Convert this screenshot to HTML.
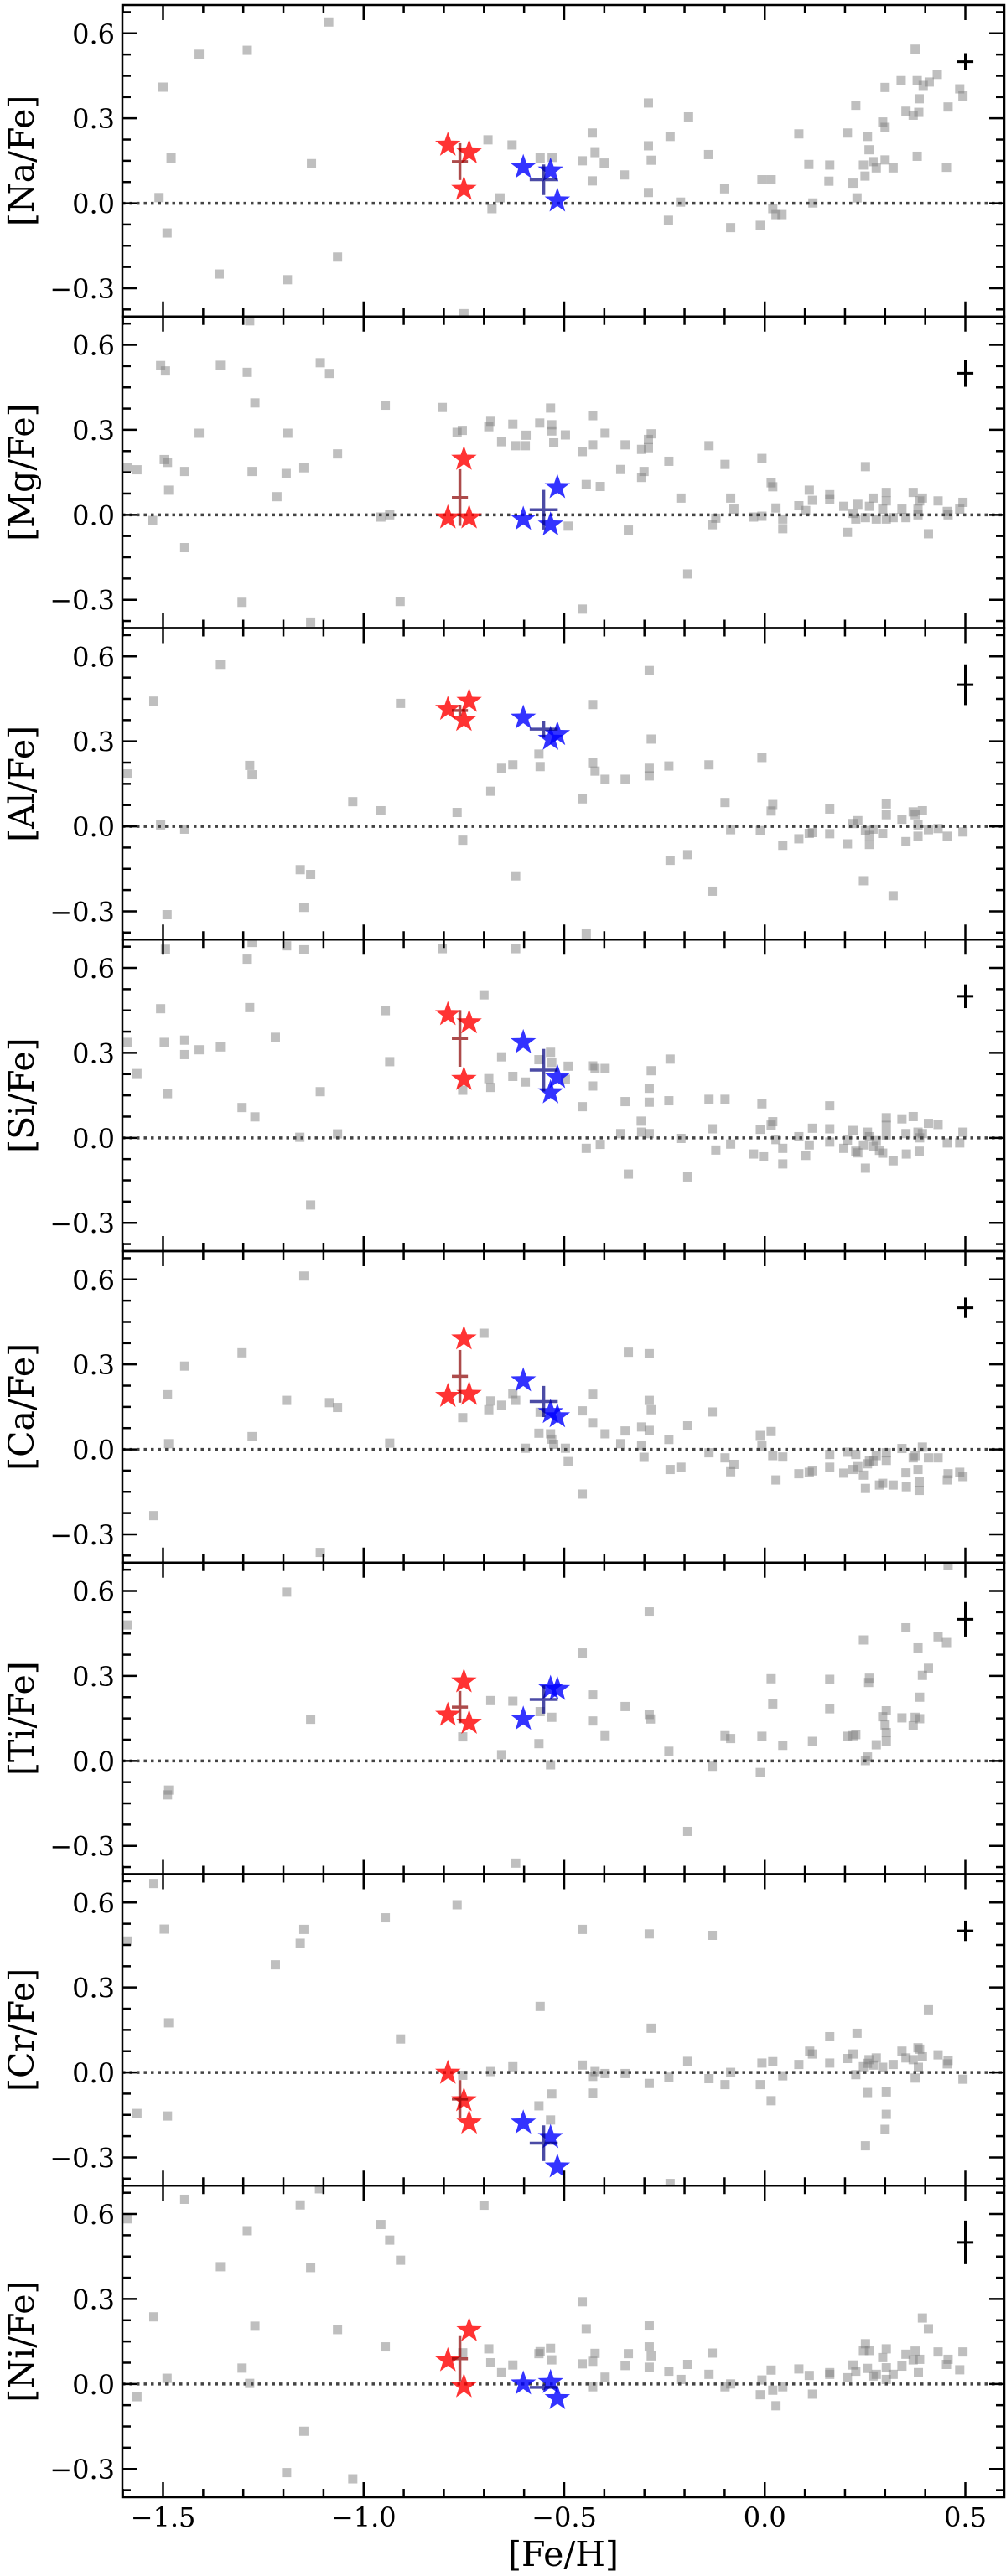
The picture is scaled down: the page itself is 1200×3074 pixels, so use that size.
<!DOCTYPE html>
<html>
<head>
<meta charset="utf-8">
<style>
html,body{margin:0;padding:0;background:#fff;}
svg{display:block;}
text{font-family:"DejaVu Serif","Liberation Serif",serif;fill:#000;}
</style>
</head>
<body>
<svg id="chart" width="1200" height="3074" viewBox="0 0 1200 3074" xmlns="http://www.w3.org/2000/svg"></svg>
<script>
// ---------- data ----------
const elementLabels = ["[Na/Fe]","[Mg/Fe]","[Al/Fe]","[Si/Fe]","[Ca/Fe]","[Ti/Fe]","[Cr/Fe]","[Ni/Fe]"];
const xTickValues = [-1.5,-1.0,-0.5,0.0,0.5];
const xTickLabels = ["\u22121.5","\u22121.0","\u22120.5","0.0","0.5"];
const yTickValues = [-0.3,0.0,0.3,0.6];
const yTickLabels = ["\u22120.3","0.0","0.3","0.6"];

const fieldNa = [[-1.087,0.64],[-1.41,0.526],[-1.29,0.54],[-1.5,0.41],[-1.48,0.16],[-1.13,0.14],[-1.51,0.02],[-1.49,-0.105],[-1.065,-0.19],[-1.36,-0.25],[-1.19,-0.27],[-0.75,-0.39],[-0.69,0.224],[-0.63,0.206],[-0.56,0.16],[-0.53,0.162],[-0.66,0.019],[-0.68,-0.019],[-0.455,0.15],[-0.43,0.248],[-0.423,0.179],[-0.4,0.142],[-0.43,0.079],[-0.35,0.1],[-0.29,0.354],[-0.19,0.305],[-0.236,0.236],[-0.29,0.203],[-0.283,0.152],[-0.29,0.038],[-0.21,0.004],[-0.24,-0.06],[-0.14,0.172],[-0.1,0.051],[-0.085,-0.086],[-0.011,-0.078],[-0.007,0.083],[0.016,0.083],[0.02,-0.019],[0.028,-0.04],[0.043,-0.04],[0.085,0.245],[0.11,0.137],[0.12,0.001],[0.162,0.135],[0.16,0.078],[0.206,0.248],[0.22,0.071],[0.23,0.019],[0.227,0.346],[0.256,0.236],[0.26,0.189],[0.246,0.135],[0.25,0.096],[0.27,0.147],[0.278,0.125],[0.3,0.409],[0.294,0.287],[0.3,0.268],[0.3,0.153],[0.32,0.125],[0.34,0.433],[0.352,0.325],[0.37,0.311],[0.38,0.433],[0.385,0.369],[0.384,0.321],[0.395,0.416],[0.41,0.428],[0.375,0.544],[0.38,0.166],[0.43,0.455],[0.457,0.34],[0.453,0.127],[0.486,0.404],[0.494,0.379]];
const fieldMg = [[-1.284,0.685],[-1.506,0.527],[-1.494,0.508],[-1.357,0.528],[-1.29,0.503],[-1.108,0.537],[-1.085,0.499],[-1.271,0.395],[-1.41,0.288],[-1.189,0.288],[-0.946,0.387],[-0.804,0.379],[-1.588,0.168],[-1.565,0.159],[-1.497,0.195],[-1.489,0.185],[-1.446,0.153],[-1.278,0.153],[-1.193,0.146],[-1.149,0.166],[-1.065,0.215],[-1.486,0.087],[-1.216,0.064],[-1.526,-0.02],[-1.446,-0.116],[-1.303,-0.309],[-0.909,-0.306],[-1.132,-0.379],[-0.957,-0.008],[-0.935,0.0],[-0.767,0.291],[-0.754,0.298],[-0.688,0.311],[-0.683,0.33],[-0.628,0.32],[-0.656,0.258],[-0.621,0.244],[-0.597,0.244],[-0.595,0.281],[-0.561,0.324],[-0.534,0.377],[-0.531,0.318],[-0.531,0.296],[-0.526,0.254],[-0.497,0.282],[-0.429,0.35],[-0.455,0.223],[-0.429,0.247],[-0.398,0.288],[-0.445,0.107],[-0.41,0.1],[-0.49,-0.04],[-0.34,-0.054],[-0.455,-0.333],[-0.348,0.247],[-0.359,0.16],[-0.307,0.231],[-0.29,0.237],[-0.29,0.266],[-0.283,0.286],[-0.301,0.153],[-0.307,0.132],[-0.239,0.189],[-0.209,0.059],[-0.192,-0.209],[-0.139,0.244],[-0.099,0.178],[-0.085,0.059],[-0.077,0.02],[-0.131,-0.035],[-0.122,-0.012],[-0.007,0.199],[0.016,0.113],[0.02,0.099],[0.028,0.024],[-0.028,-0.008],[-0.007,-0.005],[0.045,-0.015],[0.045,-0.049],[0.085,0.032],[0.102,0.015],[0.111,0.087],[0.119,0.051],[0.162,0.071],[0.162,0.054],[0.206,-0.062],[0.197,0.03],[0.22,0.005],[0.227,-0.015],[0.232,0.037],[0.251,0.17],[0.251,-0.01],[0.261,0.03],[0.27,0.059],[0.278,-0.015],[0.294,0.02],[0.303,0.049],[0.303,0.079],[0.303,-0.015],[0.32,-0.01],[0.342,0.02],[0.352,-0.01],[0.37,0.079],[0.382,0.02],[0.386,0.049],[0.393,0.059],[0.382,0.0],[0.408,-0.067],[0.432,0.049],[0.455,0.012],[0.457,0.0],[0.486,0.02],[0.494,0.044]];
const fieldAl = [[-1.357,0.572],[-0.288,0.55],[-1.523,0.442],[-0.908,0.434],[-0.429,0.43],[-0.283,0.308],[-1.588,0.185],[-1.284,0.215],[-1.278,0.182],[-0.563,0.255],[-0.656,0.205],[-0.628,0.217],[-0.56,0.211],[-0.429,0.224],[-0.423,0.195],[-0.398,0.166],[-0.348,0.166],[-0.288,0.205],[-0.288,0.178],[-0.239,0.213],[-0.139,0.217],[-0.007,0.243],[-0.683,0.124],[-0.455,0.097],[-1.027,0.087],[-0.957,0.055],[-0.767,0.049],[-1.506,0.005],[-1.446,-0.01],[-0.753,-0.049],[-1.158,-0.153],[-1.132,-0.17],[-1.149,-0.286],[-1.49,-0.312],[-0.621,-0.175],[-0.445,-0.38],[-0.236,-0.12],[-0.192,-0.1],[-0.131,-0.229],[-0.099,0.084],[-0.085,-0.012],[-0.011,-0.015],[0.016,0.054],[0.02,0.077],[0.045,-0.067],[0.085,-0.044],[0.111,-0.025],[0.119,-0.022],[0.162,0.061],[0.162,-0.026],[0.206,-0.062],[0.22,0.01],[0.232,0.02],[0.246,-0.192],[0.251,-0.015],[0.261,-0.032],[0.261,-0.064],[0.27,-0.01],[0.294,-0.025],[0.303,0.079],[0.303,0.041],[0.32,-0.245],[0.342,0.025],[0.352,-0.054],[0.37,0.051],[0.375,0.041],[0.382,0.005],[0.382,-0.035],[0.393,0.055],[0.408,-0.012],[0.432,-0.008],[0.455,-0.035],[0.494,-0.02]];
const fieldSi = [[-1.494,0.666],[-1.278,0.69],[-1.192,0.678],[-1.149,0.664],[-0.804,0.668],[-0.621,0.668],[-1.29,0.631],[-0.7,0.505],[-1.506,0.456],[-1.284,0.46],[-0.946,0.449],[-1.588,0.337],[-1.497,0.337],[-1.446,0.345],[-1.41,0.311],[-1.446,0.294],[-1.357,0.321],[-1.22,0.355],[-0.935,0.269],[-1.565,0.227],[-1.489,0.156],[-1.108,0.163],[-1.303,0.107],[-1.271,0.074],[-1.159,0.002],[-1.065,0.014],[-0.753,0.168],[-0.688,0.209],[-0.683,0.178],[-0.656,0.286],[-0.628,0.217],[-0.597,0.197],[-0.563,0.276],[-0.534,0.302],[-0.531,0.266],[-0.497,0.207],[-0.49,0.253],[-0.429,0.254],[-0.423,0.245],[-0.398,0.245],[-0.429,0.183],[-0.455,0.11],[-0.348,0.128],[-0.288,0.126],[-0.288,0.175],[-0.283,0.237],[-0.236,0.278],[-0.239,0.131],[-0.308,0.059],[-0.307,0.02],[-0.288,0.015],[-0.359,0.015],[-0.445,-0.037],[-0.41,-0.023],[-0.34,-0.128],[-0.209,-0.002],[-0.192,-0.138],[-0.139,0.136],[-0.099,0.136],[-0.131,0.032],[-0.122,-0.043],[-0.085,-0.022],[-0.028,-0.057],[-0.003,-0.067],[-0.007,0.12],[-0.011,0.03],[0.016,0.045],[0.02,0.057],[0.028,-0.006],[0.045,-0.037],[0.045,-0.092],[0.085,0.004],[0.102,-0.062],[0.111,-0.025],[0.119,0.034],[0.162,0.113],[0.162,0.032],[0.162,-0.015],[0.197,-0.037],[0.206,-0.008],[0.22,0.026],[0.227,-0.047],[0.232,-0.053],[0.246,-0.025],[0.251,-0.107],[0.256,0.02],[0.261,0.004],[0.27,-0.03],[0.278,-0.01],[0.286,-0.044],[0.294,-0.054],[0.303,0.071],[0.303,0.044],[0.303,0.01],[0.32,-0.081],[0.342,0.067],[0.352,0.015],[0.353,-0.057],[0.37,0.075],[0.382,0.02],[0.386,0.0],[0.385,-0.047],[0.393,0.015],[0.408,0.051],[0.432,0.047],[0.455,-0.018],[0.486,-0.018],[0.494,0.02],[-1.132,-0.237]];
const fieldCa = [[-1.149,0.612],[-1.303,0.341],[-1.446,0.294],[-0.7,0.41],[-0.34,0.343],[-0.288,0.338],[-1.489,0.193],[-1.192,0.173],[-1.085,0.165],[-1.065,0.148],[-1.278,0.045],[-1.486,0.02],[-0.935,0.022],[-1.523,-0.234],[-1.108,-0.364],[-0.753,0.112],[-0.688,0.14],[-0.683,0.171],[-0.656,0.156],[-0.628,0.197],[-0.621,0.173],[-0.563,0.057],[-0.56,0.131],[-0.534,0.055],[-0.531,0.036],[-0.526,0.018],[-0.597,0.004],[-0.497,0.004],[-0.49,-0.043],[-0.455,0.136],[-0.429,0.195],[-0.429,0.094],[-0.398,0.055],[-0.348,0.065],[-0.359,0.02],[-0.455,-0.158],[-0.307,0.079],[-0.288,0.067],[-0.288,0.173],[-0.283,0.14],[-0.307,0.014],[-0.301,-0.028],[-0.239,0.035],[-0.236,-0.071],[-0.209,-0.063],[-0.192,0.083],[-0.131,0.132],[-0.139,-0.012],[-0.099,-0.03],[-0.077,-0.053],[-0.085,-0.079],[-0.011,0.049],[-0.007,0.012],[0.016,0.063],[0.02,-0.022],[0.045,-0.027],[0.028,-0.108],[0.085,-0.086],[0.111,-0.081],[0.119,-0.076],[0.162,-0.018],[0.162,-0.063],[0.197,-0.084],[0.206,-0.01],[0.22,-0.071],[0.227,-0.018],[0.232,-0.061],[0.246,-0.091],[0.251,-0.138],[0.256,-0.051],[0.261,-0.041],[0.27,-0.041],[0.278,-0.022],[0.286,-0.126],[0.294,-0.12],[0.303,-0.039],[0.303,-0.012],[0.32,-0.126],[0.342,0.003],[0.352,-0.083],[0.353,-0.132],[0.37,-0.03],[0.375,-0.022],[0.382,-0.071],[0.385,-0.115],[0.385,-0.145],[0.393,0.008],[0.408,-0.03],[0.432,-0.03],[0.455,-0.108],[0.457,-0.086],[0.486,-0.081],[0.494,-0.096]];
const fieldTi = [[-1.192,0.596],[-0.288,0.526],[-1.588,0.48],[0.457,0.69],[0.352,0.47],[0.246,0.427],[0.432,0.438],[0.453,0.418],[0.382,0.399],[-0.455,0.381],[0.408,0.327],[0.393,0.302],[0.016,0.29],[0.162,0.288],[0.261,0.292],[0.259,0.277],[0.386,0.225],[-0.429,0.233],[-0.683,0.213],[-0.628,0.211],[-0.348,0.192],[0.02,0.201],[0.162,0.184],[0.303,0.177],[0.294,0.156],[0.342,0.152],[0.375,0.154],[0.386,0.149],[-0.288,0.164],[-0.285,0.148],[-0.56,0.174],[-0.531,0.154],[-0.429,0.141],[-1.132,0.147],[0.3,0.127],[0.37,0.124],[0.303,0.1],[0.303,0.07],[0.227,0.093],[0.22,0.089],[0.206,0.087],[0.278,0.057],[0.256,0.014],[0.251,0.001],[-0.398,0.089],[-0.099,0.089],[-0.085,0.079],[-0.007,0.087],[0.045,0.055],[0.119,0.069],[-0.563,0.061],[-0.753,0.085],[-0.656,0.022],[-0.239,0.034],[-0.534,-0.014],[-0.131,-0.019],[-0.011,-0.041],[-1.489,-0.12],[-1.486,-0.103],[-0.192,-0.249],[-0.621,-0.361]];
const fieldCr = [[-1.523,0.667],[-0.767,0.592],[-0.946,0.546],[-1.497,0.506],[-1.149,0.505],[-0.455,0.505],[-0.288,0.489],[-0.131,0.484],[-1.588,0.464],[-1.158,0.456],[-1.22,0.38],[-0.56,0.233],[0.408,0.221],[-1.486,0.175],[-0.283,0.156],[-0.908,0.118],[0.162,0.126],[0.23,0.138],[0.112,0.075],[0.119,0.065],[0.22,0.065],[0.206,0.049],[0.278,0.051],[0.342,0.075],[0.352,0.051],[0.37,0.045],[0.382,0.087],[0.386,0.082],[0.393,0.055],[0.432,0.062],[0.457,0.042],[0.455,0.03],[0.383,0.018],[0.375,-0.02],[0.26,0.045],[0.256,0.032],[0.27,0.026],[0.246,0.02],[0.294,0.018],[0.32,0.028],[0.227,-0.008],[0.162,0.033],[0.085,0.028],[0.02,0.038],[-0.007,0.033],[0.045,-0.012],[0.016,-0.1],[-0.011,-0.043],[-0.192,0.039],[-0.085,0.0],[-0.099,-0.043],[-0.139,-0.022],[-0.239,-0.017],[-0.288,-0.039],[-0.348,-0.004],[-0.398,-0.004],[-0.423,0.003],[-0.429,-0.014],[-0.455,0.026],[-0.429,-0.073],[-0.531,-0.076],[-0.563,-0.118],[-0.534,-0.168],[-0.628,0.02],[-0.683,0.003],[-0.753,-0.01],[0.256,-0.071],[0.303,-0.069],[0.303,-0.148],[0.3,-0.201],[0.251,-0.259],[-1.565,-0.145],[-1.489,-0.154],[-0.236,-0.392],[0.494,-0.024]];
const fieldNi = [[-1.11,0.689],[-1.446,0.652],[-1.158,0.632],[-0.7,0.631],[-1.588,0.583],[-0.957,0.563],[-1.29,0.541],[-0.935,0.508],[-1.357,0.414],[-1.132,0.411],[-0.908,0.437],[-0.455,0.29],[-1.523,0.237],[-1.271,0.204],[-1.065,0.192],[-0.946,0.131],[-1.303,0.056],[-1.49,0.02],[-1.284,0.002],[-1.565,-0.045],[-1.149,-0.167],[-1.192,-0.313],[-1.027,-0.335],[-0.753,0.11],[-0.688,0.124],[-0.683,0.075],[-0.656,0.04],[-0.628,0.067],[-0.563,0.107],[-0.56,0.114],[-0.534,0.126],[-0.531,0.085],[-0.445,0.195],[-0.423,0.108],[-0.429,0.08],[-0.455,0.071],[-0.398,0.024],[-0.429,-0.01],[-0.348,0.065],[-0.34,0.107],[-0.288,0.205],[-0.288,0.131],[-0.283,0.099],[-0.288,0.059],[-0.239,0.045],[-0.209,0.016],[-0.192,0.069],[-0.131,0.109],[-0.139,0.034],[-0.099,-0.01],[-0.085,0.0],[-0.011,-0.038],[-0.007,0.014],[0.016,0.049],[0.02,-0.022],[0.028,-0.077],[0.045,-0.01],[0.085,0.053],[0.111,0.03],[0.119,-0.036],[0.162,0.04],[0.162,0.034],[0.206,0.022],[0.22,0.067],[0.227,0.045],[0.246,0.118],[0.251,0.142],[0.261,0.118],[0.256,0.055],[0.27,0.028],[0.278,0.034],[0.294,0.093],[0.303,0.124],[0.303,0.057],[0.303,0.016],[0.32,0.034],[0.342,0.063],[0.352,0.105],[0.37,0.085],[0.375,0.116],[0.386,0.087],[0.383,0.04],[0.393,0.233],[0.408,0.195],[0.432,0.113],[0.453,0.069],[0.457,0.087],[0.486,0.05],[0.494,0.113]];
const fieldSets = [fieldNa,fieldMg,fieldAl,fieldSi,fieldCa,fieldTi,fieldCr,fieldNi];

const redStarFe = [-0.79,-0.75,-0.737];
const redStarAbund = [[0.206,0.05,0.179],[-0.01,0.197,-0.01],[0.414,0.375,0.442],[0.436,0.207,0.407],[0.188,0.391,0.195],[0.162,0.28,0.134],[-0.002,-0.099,-0.178],[0.083,-0.009,0.189]];
const blueStarFe = [-0.602,-0.534,-0.517];
const blueStarAbund = [[0.127,0.115,0.009],[-0.015,-0.035,0.097],[0.383,0.308,0.325],[0.337,0.16,0.214],[0.243,0.131,0.116],[0.148,0.257,0.253],[-0.178,-0.229,-0.333],[0.001,0.006,-0.051]];
const redMeanFe = -0.76, redMeanFeErr = 0.02;
const redMean = [0.147,0.061,0.409,0.351,0.258,0.19,-0.094,0.089];
const redMeanErr = [0.065,0.1,0.02,0.1,0.093,0.057,0.067,0.08];
const blueMeanFe = -0.551, blueMeanFeErr = 0.035;
const blueMean = [0.083,0.018,0.343,0.239,0.169,0.217,-0.25,-0.012];
const blueMeanErr = [0.054,0.07,0.03,0.075,0.055,0.05,0.063,0.01];
const typErrFe = 0.5, typErrVal = 0.5, typErrX = 0.02;
const typErrY = [0.03,0.048,0.072,0.042,0.036,0.061,0.036,0.077];

// ---------- layout ----------
const NS = "http://www.w3.org/2000/svg";
const svg = document.getElementById("chart");
const plotL = 146, plotR = 1198, top0 = 6, panelH = 371.75;
const yMax = 0.70, yMin = -0.40;
function xScale(v){ return 194.5 + (v + 1.5) * 478.5; }
function yScale(i, v){ return top0 + i * panelH + (yMax - v) / (yMax - yMin) * panelH; }
function mk(tag, attrs, parent){
  const e = document.createElementNS(NS, tag);
  for (const k in attrs) e.setAttribute(k, attrs[k]);
  (parent || svg).appendChild(e);
  return e;
}
function starPath(cx, cy, R){
  const r = R * 0.4; let d = "";
  for (let k = 0; k < 10; k++){
    const a = -Math.PI/2 + k * Math.PI/5, rr = k % 2 ? r : R;
    d += (k ? "L" : "M") + (cx + rr*Math.cos(a)).toFixed(2) + "," + (cy + rr*Math.sin(a)).toFixed(2);
  }
  return d + "Z";
}
function cross(g, cx, cy, ex, ey, i, color, w){
  const x0 = xScale(cx - ex), x1 = xScale(cx + ex), y0 = yScale(i, cy - ey), y1 = yScale(i, cy + ey);
  const xc = xScale(cx), yc = yScale(i, cy);
  mk("line", {x1:x0, x2:x1, y1:yc, y2:yc, stroke:color, "stroke-width":w}, g);
  mk("line", {x1:xc, x2:xc, y1:y0, y2:y1, stroke:color, "stroke-width":w}, g);
}

const defs = mk("defs", {});
for (let i = 0; i < 8; i++){
  const pTop = top0 + i * panelH;
  const cp = mk("clipPath", {id:"clip" + i}, defs);
  mk("rect", {x:plotL, y:pTop, width:plotR - plotL, height:panelH}, cp);

  const panel = mk("g", {});
  
  
  const inner = mk("g", {"clip-path":"url(#clip" + i + ")"}, panel);

  const fg = mk("g", {}, inner);
  
  
  fieldSets[i].forEach(p => {
    const r = mk("rect", {x:xScale(p[0]) - 5.5, y:yScale(i, p[1]) - 5.5, width:11, height:11, fill:"#808080", "fill-opacity":0.5}, fg);
    
    
  });

  const zl = mk("line", {x1:plotL, x2:plotR, y1:yScale(i,0), y2:yScale(i,0), stroke:"#444", "stroke-width":3.5, "stroke-dasharray":"3.5,5"}, inner);
  
  

  redStarFe.forEach((fe, k) => {
    const s = mk("path", {d:starPath(xScale(fe), yScale(i, redStarAbund[i][k]), 16), fill:"#ff0000", "fill-opacity":0.8}, inner);
    
    
  });
  blueStarFe.forEach((fe, k) => {
    const s = mk("path", {d:starPath(xScale(fe), yScale(i, blueStarAbund[i][k]), 16), fill:"#0000ff", "fill-opacity":0.8}, inner);
    
    
  });

  const rm = mk("g", {opacity:0.7}, inner);
  
  
  cross(rm, redMeanFe, redMean[i], redMeanFeErr, redMeanErr[i], i, "#8b0000", 3.5);
  const bm = mk("g", {opacity:0.7}, inner);
  
  
  cross(bm, blueMeanFe, blueMean[i], blueMeanFeErr, blueMeanErr[i], i, "#000080", 3.5);
  const te = mk("g", {}, inner);
  
  
  cross(te, typErrFe, typErrVal, typErrX, typErrY[i], i, "#000", 3);

  const tg = mk("g", {stroke:"#000", "stroke-width":2.5}, panel);
  
  
  const pBot = pTop + panelH;
  for (let t = -16; t <= 6; t++){
    const v = t / 10, x = xScale(v);
    if (x < plotL || x > plotR) continue;
    const major = (t % 5 === 0), L = major ? 18 : 10;
    mk("line", {x1:x, x2:x, y1:pTop, y2:pTop + L}, tg);
    mk("line", {x1:x, x2:x, y1:pBot, y2:pBot - L}, tg);
  }
  for (let t = -5; t <= 9; t++){
    const v = t * 0.075, y = yScale(i, v);
    if (y < pTop + 1 || y > pBot - 1) continue;
    const major = (t % 4 === 0), L = major ? 18 : 10;
    mk("line", {x1:plotL, x2:plotL + L, y1:y, y2:y}, tg);
    mk("line", {x1:plotR, x2:plotR - L, y1:y, y2:y}, tg);
  }
  yTickValues.forEach((v, k) => {
    const t = mk("text", {x:137, y:yScale(i, v) + 12, "font-size":32, "text-anchor":"end"}, panel);
    t.textContent = yTickLabels[k];
    
    
  });
  const yl = mk("text", {x:0, y:0, "font-size":41, "text-anchor":"middle", transform:"translate(40," + (pTop + panelH/2) + ") rotate(-90)"}, panel);
  yl.textContent = elementLabels[i];
  
  

  const fr = mk("rect", {x:plotL, y:pTop, width:plotR - plotL, height:panelH, fill:"none", stroke:"#000", "stroke-width":2.5}, panel);
  
  
}

const bottom = top0 + 8 * panelH;
xTickValues.forEach((v, k) => {
  const t = mk("text", {x:xScale(v), y:bottom + 35, "font-size":32, "text-anchor":"middle"});
  t.textContent = xTickLabels[k];
  
  
});
const xl = mk("text", {x:672, y:3062, "font-size":41, "text-anchor":"middle"});
xl.textContent = "[Fe/H]";


</script>
</body>
</html>
